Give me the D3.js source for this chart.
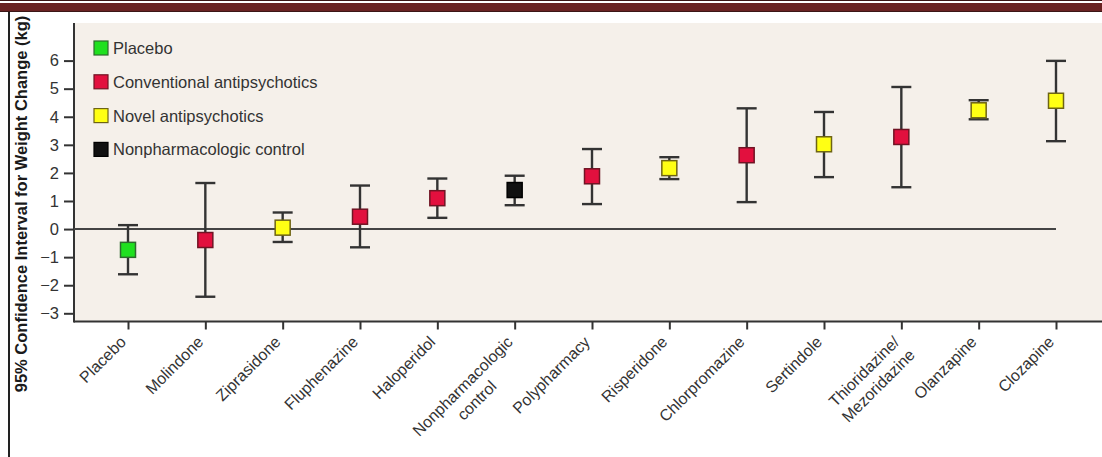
<!DOCTYPE html>
<html>
<head>
<meta charset="utf-8">
<script src="https://cdn.jsdelivr.net/npm/d3@7"></script>
<style>
  body { margin: 0; background: #fff; }
  svg { display: block; font-family: "Liberation Sans", Arial, sans-serif; }
</style>
</head>
<body>
<svg id="chart"></svg>
<script>
// drugs along the x axis, each label may have two lines
const drugs = ["Placebo", "Molindone", "Ziprasidone", "Fluphenazine", "Haloperidol",
    "Nonpharmacologic\ncontrol", "Polypharmacy", "Risperidone", "Chlorpromazine",
    "Sertindole", "Thioridazine/\nMezoridazine", "Olanzapine", "Clozapine"];
const drugGroup = ["placebo", "conv", "novel", "conv", "conv", "nonpharm", "conv",
    "novel", "conv", "novel", "conv", "novel", "novel"];
const meanChange = [-0.74, -0.39, 0.05, 0.44, 1.1, 1.39, 1.88, 2.17, 2.63, 3.02, 3.28, 4.23, 4.57];
const lowerCI = [-1.61, -2.41, -0.46, -0.65, 0.4, 0.85, 0.89, 1.78, 0.96, 1.85, 1.49, 3.91, 3.13];
const upperCI = [0.14, 1.64, 0.59, 1.55, 1.8, 1.9, 2.85, 2.56, 4.3, 4.17, 5.06, 4.59, 5.99];

const yTicks = [-3, -2, -1, 0, 1, 2, 3, 4, 5, 6];
const legendKeys = ["placebo", "conv", "novel", "nonpharm"];
const legendLabels = ["Placebo", "Conventional antipsychotics", "Novel antipsychotics", "Nonpharmacologic control"];

const fillColor = {placebo: "#1fe01f", conv: "#e2103e", novel: "#ffff14", nonpharm: "#111111"};
const edgeColor = {placebo: "#2d6a2d", conv: "#701424", novel: "#6e6414", nonpharm: "#000000"};

const W = 1102, H = 457;
const svg = d3.select("#chart").attr("width", W).attr("height", H);

//page decoration
svg.append("rect").attr("width", W).attr("height", H).attr("fill", "#fff");
svg.append("line").attr("x1", 0).attr("x2", W).attr("y1", 0.5).attr("y2", 0.5)
    .attr("stroke", "#3b1616").attr("stroke-width", 1);
svg.append("rect").attr("x", 0).attr("y", 3).attr("width", W).attr("height", 8).attr("fill", "#6a2222");
svg.append("line").attr("x1", 0).attr("x2", W).attr("y1", 11.5).attr("y2", 11.5)
    .attr("stroke", "#3b1616").attr("stroke-width", 1.2);
svg.append("line").attr("x1", 9).attr("x2", 9).attr("y1", 12).attr("y2", H)
    .attr("stroke", "#222").attr("stroke-width", 2);

//plot area
const plotLeft = 74, plotTop = 23, plotBottom = 321.5;
svg.append("rect").attr("x", plotLeft).attr("y", plotTop)
    .attr("width", W - plotLeft).attr("height", plotBottom - plotTop).attr("fill", "#f5f0ea");

//scales
const xScale = d3.scalePoint().domain(drugs).range([128, 1056]);
const yScale = d3.scaleLinear().domain([-3, 6]).range([313.3, 60.6]);

//y axis
const yAxis = svg.append("g").attr("transform", `translate(${plotLeft},0)`)
    .call(d3.axisLeft(yScale).tickValues(yTicks).tickSize(10).tickPadding(5).tickFormat(d3.format("d")));
yAxis.select(".domain").remove();
yAxis.selectAll(".tick line").attr("stroke", "#333").attr("stroke-width", 2);
yAxis.selectAll(".tick text").attr("font-size", 16.5).attr("fill", "#333")
    .attr("font-family", "Liberation Sans, Arial, sans-serif");
svg.append("line").attr("x1", plotLeft).attr("x2", plotLeft).attr("y1", plotTop).attr("y2", plotBottom + 1)
    .attr("stroke", "#333").attr("stroke-width", 2);

//x axis
const xAxis = svg.append("g").attr("transform", `translate(0,${plotBottom})`)
    .call(d3.axisBottom(xScale).tickSize(8).tickFormat(""));
xAxis.select(".domain").remove();
xAxis.selectAll(".tick line").attr("stroke", "#333").attr("stroke-width", 2);
svg.append("line").attr("x1", plotLeft).attr("x2", W).attr("y1", plotBottom).attr("y2", plotBottom)
    .attr("stroke", "#333").attr("stroke-width", 2);

//rotated tick labels
const labelGroups = svg.append("g").selectAll("g").data(drugs).join("g")
    .attr("transform", d => `translate(${xScale(d) - 1},${plotBottom + 21.5}) rotate(-45)`);
labelGroups.each(function(d){
    const lines = d.split("\n");
    const g = d3.select(this);
    const first = g.append("text").attr("text-anchor", "end").attr("font-size", 16)
        .attr("fill", "#333").text(lines[0]);
    if (lines.length > 1){
        const w = first.node().getComputedTextLength();
        g.append("text").attr("text-anchor", "middle").attr("font-size", 16)
            .attr("fill", "#333").attr("x", -w / 2).attr("y", 20).text(lines[1]);
    }
});

//y axis title
svg.append("text")
    .attr("transform", `translate(27,204) rotate(-90)`)
    .attr("text-anchor", "middle").attr("font-size", 16.5).attr("font-weight", "bold")
    .attr("fill", "#1a1a1a").text("95% Confidence Interval for Weight Change (kg)");

//zero line
svg.append("line").attr("x1", plotLeft).attr("x2", xScale(drugs[drugs.length - 1]))
    .attr("y1", yScale(0)).attr("y2", yScale(0)).attr("stroke", "#444").attr("stroke-width", 2);

//error bars
const rows = drugs.map((d, i) => ({drug: d, group: drugGroup[i], mean: meanChange[i], lo: lowerCI[i], hi: upperCI[i]}));
const bars = svg.append("g").selectAll("g").data(rows).join("g");
bars.append("line")
    .attr("x1", d => xScale(d.drug)).attr("x2", d => xScale(d.drug))
    .attr("y1", d => yScale(d.lo)).attr("y2", d => yScale(d.hi))
    .attr("stroke", "#333").attr("stroke-width", 2.4);
bars.selectAll(".cap").data(d => [d.lo, d.hi].map(v => ({x: xScale(d.drug), v: v}))).join("line")
    .attr("class", "cap")
    .attr("x1", c => c.x - 10).attr("x2", c => c.x + 10)
    .attr("y1", c => yScale(c.v)).attr("y2", c => yScale(c.v))
    .attr("stroke", "#333").attr("stroke-width", 2.4);
bars.append("rect")
    .attr("x", d => xScale(d.drug) - 7.5).attr("y", d => yScale(d.mean) - 7.5)
    .attr("width", 15).attr("height", 15)
    .attr("fill", d => fillColor[d.group]).attr("stroke", d => edgeColor[d.group]).attr("stroke-width", 1.5);

//legend
const legend = svg.append("g").selectAll("g").data(legendKeys).join("g")
    .attr("transform", (d, i) => `translate(94,${48 + i * 33.8})`);
legend.append("rect").attr("x", 0).attr("y", -7).attr("width", 14).attr("height", 14)
    .attr("fill", d => fillColor[d]).attr("stroke", d => edgeColor[d]).attr("stroke-width", 1.2);
legend.append("text").attr("x", 19).attr("y", 6).attr("font-size", 16.5).attr("fill", "#333")
    .text((d, i) => legendLabels[i]);
</script>
</body>
</html>
